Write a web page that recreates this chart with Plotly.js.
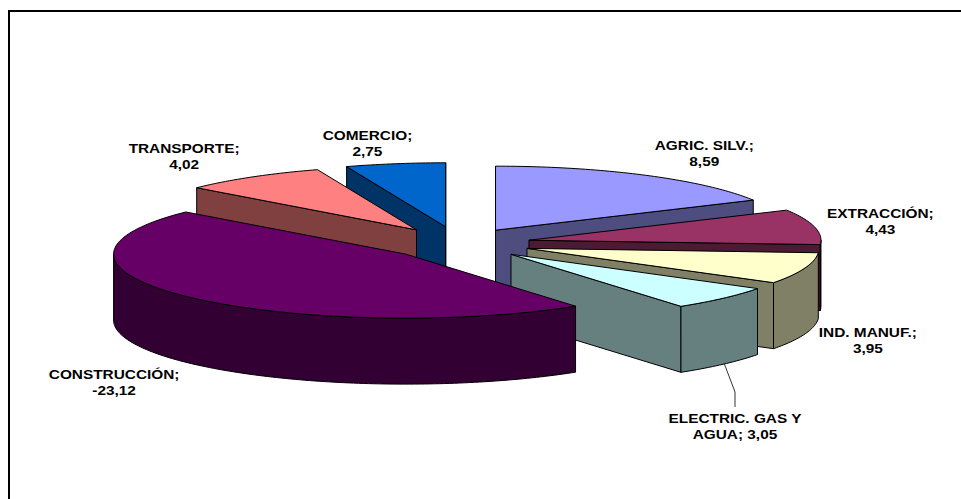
<!DOCTYPE html>
<html><head><meta charset="utf-8">
<script src="https://cdn.plot.ly/plotly-3.0.0.min.js"></script>
<style>html,body{margin:0;padding:0;background:#fff}#c{width:961px;height:499px}</style>
</head><body><div id="c"></div>
<script>
// Data
const categories = ['AGRIC. SILV.','EXTRACCIÓN','IND. MANUF.','ELECTRIC. GAS Y AGUA','CONSTRUCCIÓN','TRANSPORTE','COMERCIO'];
const values = [8.59,4.43,3.95,3.05,-23.12,4.02,2.75];
const labelText = ['AGRIC. SILV.;<br>8,59','EXTRACCIÓN;<br>4,43','IND. MANUF.;<br>3,95','ELECTRIC. GAS Y<br>AGUA; 3,05','CONSTRUCCIÓN;<br>-23,12','TRANSPORTE;<br>4,02','COMERCIO;<br>2,75'];
// Style
const topColors = ['#9999FF','#993366','#FFFFCC','#CCFFFF','#660066','#FF8080','#0066CC'];
const wallColors = ['#4D4D80','#4D1A33','#808066','#668080','#330033','#804040','#003366'];
const labelX = [704.5,880,867.5,735,114,184,367.5];
const labelY = [154,221,341,426.5,382.5,157,143.5];
const explodeBy = [0.243,0.245,0.245,0.245,0.247,0.258,0.265];
const drawOrder = [6,0,5,1,2,3,4];
// Pie geometry
const cx=459, cy=243.5, rx=292, ry=64, depth=66;

const total = values.reduce((s,v)=>s+Math.abs(v),0);
let acc=0;
const slices = values.map((v,i)=>{
  const a0=acc/total*2*Math.PI; acc+=Math.abs(v); const a1=acc/total*2*Math.PI;
  const m=(a0+a1)/2;
  return {i,a0,a1,ax:cx+explodeBy[i]*rx*Math.sin(m),ay:cy-explodeBy[i]*ry*Math.cos(m)};
});
const traces=[];
function poly(xs,ys,color){
  xs=xs.concat(xs[0]); ys=ys.concat(ys[0]);
  traces.push({type:'scatter',mode:'lines',x:xs,y:ys,fill:'toself',fillcolor:color,
    line:{color:'#000',width:1,simplify:false},hoverinfo:'skip',showlegend:false});
}
function pt(s,a,d){return [s.ax+rx*Math.sin(a), s.ay-ry*Math.cos(a)+(d||0)];}
function arc(s,a0,a1,d){
  const n=Math.max(2,Math.ceil((a1-a0)/(Math.PI/180)));
  const out=[]; for(let k=0;k<=n;k++) out.push(pt(s,a0+(a1-a0)*k/n,d)); return out;
}
const eps=1e-6;
drawOrder.forEach(idx=>{
  const s=slices[idx], wc=wallColors[idx];
  // only the cut faces turned towards the viewer
  const cuts=[];
  if(Math.sin(s.a0)<eps) cuts.push(s.a0);
  if(Math.sin(s.a1)>-eps) cuts.push(s.a1);
  cuts.forEach(a=>{
    const p=pt(s,a);
    poly([s.ax,p[0],p[0],s.ax],[s.ay,p[1],p[1]+depth,s.ay+depth],wc);
  });
  const lo=Math.max(s.a0,Math.PI/2), hi=Math.min(s.a1,1.5*Math.PI);
  if(hi>lo){
    const up=arc(s,lo,hi,0), dn=arc(s,lo,hi,depth).reverse(), all=up.concat(dn);
    poly(all.map(p=>p[0]),all.map(p=>p[1]),wc);
  }
  const t=[[s.ax,s.ay]].concat(arc(s,s.a0,s.a1,0));
  poly(t.map(p=>p[0]),t.map(p=>p[1]),topColors[idx]);
});
const axis={visible:false,fixedrange:true,showgrid:false,zeroline:false};
const layout={width:961,height:499,margin:{l:0,r:0,t:0,b:0},paper_bgcolor:'#fff',plot_bgcolor:'#fff',showlegend:false,
  xaxis:Object.assign({range:[0,961]},axis),
  yaxis:Object.assign({range:[499,0]},axis),
  shapes:[
    {type:'path',xref:'x',yref:'y',path:'M 9 499 L 9 11 L 961 11',line:{color:'#000',width:2},layer:'below'},
    {type:'path',xref:'x',yref:'y',path:'M 724 363 L 735 392 L 735 407',line:{color:'#333',width:1}}
  ],
  annotations:categories.map((c,i)=>({xref:'x',yref:'y',x:labelX[i],y:labelY[i],text:labelText[i],showarrow:false,
    xanchor:'center',yanchor:'middle',align:'center',
    font:{family:'"Liberation Sans",Arial,sans-serif',size:12.5,color:'#000',weight:700}}))
};
const labelStretch=1.23;
Plotly.newPlot('c',traces,layout,{displayModeBar:false,staticPlot:true}).then(()=>{
  document.querySelectorAll('.annotation-text').forEach(t=>{
    const b=t.getBBox(), m=b.x+b.width/2;
    t.setAttribute('transform','translate('+m+' 0) scale('+labelStretch+' 1) translate('+(-m)+' 0)');
  });
});
</script></body></html>
